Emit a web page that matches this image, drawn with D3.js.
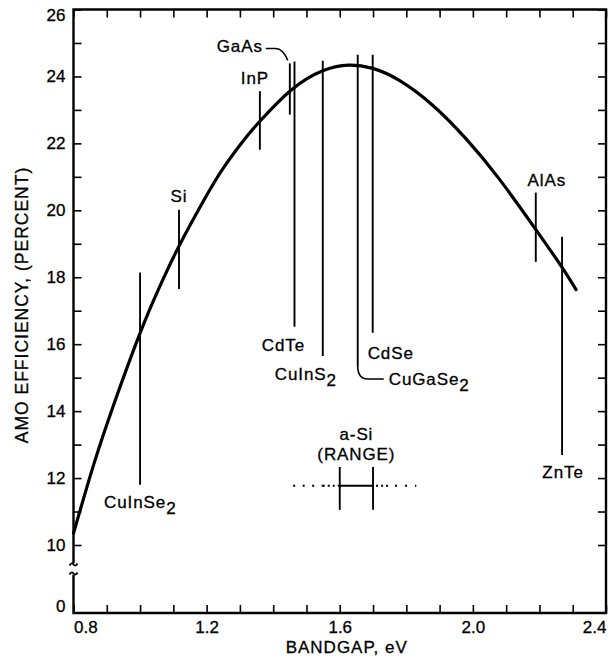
<!DOCTYPE html>
<html><head><meta charset="utf-8">
<script src="https://cdn.jsdelivr.net/npm/d3@7"></script>
<style>
html,body{margin:0;padding:0;background:#fff;}
svg{display:block;}
text{font-family:"Liberation Sans",Arial,Helvetica,sans-serif;fill:#000;}
</style>
</head><body>
<svg id="chart" width="616" height="669"></svg>
<script>
// ---- data ----
const bandgapEV     = [0.80, 0.859, 0.92, 1.00, 1.06, 1.118, 1.19, 1.25, 1.315, 1.36, 1.456, 1.551, 1.626, 1.699, 1.779, 1.879, 1.979, 2.079, 2.186, 2.265, 2.31];
const efficiencyPct = [10.35, 12.35, 14.17, 16.33, 17.74, 18.95, 20.27, 21.26, 22.14, 22.66, 23.61, 24.18, 24.34, 24.24, 23.88, 23.14, 22.14, 20.94, 19.47, 18.34, 17.63];

const materials      = ["CuInSe2", "Si", "InP", "GaAs", "CdTe", "CuInS2", "CuGaSe2", "CdSe", "AlAs", "ZnTe"];
const materialGapEV  = [1.00, 1.117, 1.36, 1.45, 1.464, 1.549, 1.654, 1.699, 2.189, 2.268];
const materialTop    = [18.14, 20.02, 23.56, 24.39, 24.45, 24.47, 24.65, 24.65, 20.53, 19.21];
const materialBottom = [11.80, 17.65, 21.81, 22.86, 16.52, 15.65, 15.35, 16.34, 18.46, 12.69];

const aSiRangeEV  = [1.6, 1.7];
const aSiDottedEV = [1.46, 1.83];
const aSiLevel    = 11.77;
const aSiBarPct   = [11.05, 12.33];

const xTickValues = [0.8,0.9,1.0,1.1,1.2,1.3,1.4,1.5,1.6,1.7,1.8,1.9,2.0,2.1,2.2,2.3,2.4];
const xTickLabels = ["0.8","1.2","1.6","2.0","2.4"];
const yTickValues = [10,11,12,13,14,15,16,17,18,19,20,21,22,23,24,25,26];
const yTickLabels = [0,10,12,14,16,18,20,22,24,26];

// ---- layout (not data) ----
const FONT = 17;
const labelLayout = {
  CuInSe2:{end:"bottom",dx:-36,dy:23,anchor:"start"},
  Si:     {end:"top",dx:0,dy:-8,anchor:"middle"},
  InP:    {end:"top",dx:-5,dy:-7,anchor:"middle"},
  GaAs:   {end:"top",dx:-27,dy:-11,anchor:"end"},
  CdTe:   {end:"bottom",dx:-11,dy:24,anchor:"middle"},
  CuInS2: {end:"bottom",dx:-48,dy:24,anchor:"start"},
  CuGaSe2:{end:"bottom",dx:31,dy:19,anchor:"start"},
  CdSe:   {end:"bottom",dx:-5,dy:26,anchor:"start"},
  AlAs:   {end:"top",dx:11,dy:-7,anchor:"middle"},
  ZnTe:   {end:"bottom",dx:1,dy:23,anchor:"middle"}
};

const svg = d3.select("#chart");
const x = d3.scaleLinear().domain([0.8, 2.4]).range([73.5, 606]);
const y = d3.scaleLinear().domain([0, 10, 26]).range([613, 545, 9.5]);

const x0 = x(0.8), x1 = x(2.4), yb = y(0), yt = y(26);

function styleAxis(g){
  g.select(".domain").remove();
  g.selectAll(".tick line").attr("stroke","#000").attr("stroke-width",1.6);
  g.selectAll(".tick text").attr("font-size",FONT).attr("fill","#000")
    .attr("font-family","'Liberation Sans',Arial,sans-serif").attr("stroke","#000").attr("stroke-width",0.3);
}

// left axis
const gl = svg.append("g").attr("transform",`translate(${x0},0)`)
  .call(d3.axisLeft(y).tickValues(yTickValues).tickSize(-8).tickPadding(8)
    .tickFormat(d => yTickLabels.includes(d) ? d : ""));
styleAxis(gl);
gl.selectAll(".tick text").filter(d => d === 26).attr("dy","0.62em");
gl.append("text").attr("x",-8).attr("y",yb-6).attr("dy","0.32em").attr("text-anchor","end")
  .attr("font-size",FONT).attr("stroke","#000").attr("stroke-width",0.3).text(yTickLabels[0]);

// right axis
const gr = svg.append("g").attr("transform",`translate(${x1},0)`)
  .call(d3.axisRight(y).tickValues(yTickValues).tickSize(-8).tickFormat(""));
styleAxis(gr);

// bottom axis
const gb = svg.append("g").attr("transform",`translate(0,${yb})`)
  .call(d3.axisBottom(x).tickValues(xTickValues).tickSize(-8).tickPadding(8)
    .tickFormat(d => { const s = d3.format(".1f")(d); return xTickLabels.includes(s) ? s : ""; }));
styleAxis(gb);
gb.selectAll(".tick text").filter(d => Math.abs(d-0.8)<1e-6).attr("text-anchor","start");
gb.selectAll(".tick text").filter(d => Math.abs(d-2.4)<1e-6).attr("text-anchor","end");

// top axis
const gt = svg.append("g").attr("transform",`translate(0,${yt})`)
  .call(d3.axisTop(x).tickValues(xTickValues).tickSize(-8).tickFormat(""));
styleAxis(gt);

// frame with broken left axis
svg.append("path")
  .attr("d",`M${x0},${yb} V576 M${x0},562 V${yt} H${x1} V${yb} H${x0}`)
  .attr("fill","none").attr("stroke","#000").attr("stroke-width",2.4).attr("stroke-linecap","square");
[564.5, 573.5].forEach(yy => {
  svg.append("path").attr("d",`M${x0-4},${yy+1} q2,-3.5 4,-1 t4,-1`)
    .attr("fill","none").attr("stroke","#000").attr("stroke-width",1.8);
});

// efficiency curve
const pts = bandgapEV.map((b,i) => [b, efficiencyPct[i]]);
svg.append("path").datum(pts)
  .attr("d", d3.line().x(d => x(d[0])).y(d => y(d[1])).curve(d3.curveNatural))
  .attr("fill","none").attr("stroke","#000").attr("stroke-width",3.2).attr("stroke-linecap","round");

// material bandgap markers
materials.forEach((m,i) => {
  const gx = x(materialGapEV[i]), ty = y(materialTop[i]), by = y(materialBottom[i]);
  svg.append("line").attr("x1",gx).attr("x2",gx).attr("y1",ty).attr("y2",by)
    .attr("stroke","#000").attr("stroke-width",1.9);
  const L = labelLayout[m];
  const ax = gx + L.dx, ay = (L.end === "top" ? ty : by) + L.dy;
  const t = svg.append("text").attr("x",ax).attr("y",ay).attr("text-anchor",L.anchor)
    .attr("font-size",FONT).attr("letter-spacing","0.9").attr("stroke","#000").attr("stroke-width",0.3);
  const mm = m.match(/^(.*?)(\d)$/);
  if (mm) {
    t.append("tspan").text(mm[1]);
    t.append("tspan").attr("dy",6).text(mm[2]);
  } else t.text(m);
  if (m === "GaAs") {
    svg.append("path").attr("d",`M${gx-24},${ty-15} H${gx-14} Q${gx-7},${ty-15} ${gx-2},${ty-3}`)
      .attr("fill","none").attr("stroke","#000").attr("stroke-width",1.5);
  }
  if (m === "CuGaSe2") {
    svg.append("path").attr("d",`M${gx},${by} Q${gx},${by+13} ${gx+10},${by+13} H${gx+26}`)
      .attr("fill","none").attr("stroke","#000").attr("stroke-width",1.6);
  }
});

// a-Si range
const ay = y(aSiLevel);
svg.append("line").attr("x1",x(aSiDottedEV[0])).attr("x2",x(aSiRangeEV[0])-14).attr("y1",ay).attr("y2",ay)
  .attr("stroke","#000").attr("stroke-width",2).attr("stroke-dasharray","2,7.5");
svg.append("line").attr("x1",x(aSiRangeEV[0])-17).attr("x2",x(aSiRangeEV[0])).attr("y1",ay).attr("y2",ay)
  .attr("stroke","#000").attr("stroke-width",2).attr("stroke-dasharray","2,3");
svg.append("line").attr("x1",x(aSiRangeEV[1])+3).attr("x2",x(aSiRangeEV[1])+17).attr("y1",ay).attr("y2",ay)
  .attr("stroke","#000").attr("stroke-width",2).attr("stroke-dasharray","2,3");
svg.append("line").attr("x1",x(aSiRangeEV[1])+22).attr("x2",x(aSiDottedEV[1])).attr("y1",ay).attr("y2",ay)
  .attr("stroke","#000").attr("stroke-width",2).attr("stroke-dasharray","2,8");
svg.append("line").attr("x1",x(aSiRangeEV[0])).attr("x2",x(aSiRangeEV[1])).attr("y1",ay).attr("y2",ay)
  .attr("stroke","#000").attr("stroke-width",2);
aSiRangeEV.forEach(v => {
  svg.append("line").attr("x1",x(v)).attr("x2",x(v)).attr("y1",y(aSiBarPct[1])).attr("y2",y(aSiBarPct[0]))
    .attr("stroke","#000").attr("stroke-width",1.9);
});
const acx = x((aSiRangeEV[0]+aSiRangeEV[1])/2);
svg.append("text").attr("x",acx).attr("y",y(aSiBarPct[1])-27).attr("text-anchor","middle")
  .attr("font-size",FONT).attr("letter-spacing","0.9").attr("stroke","#000").attr("stroke-width",0.3).text("a-Si");
svg.append("text").attr("x",acx).attr("y",y(aSiBarPct[1])-7).attr("text-anchor","middle")
  .attr("font-size",FONT).attr("letter-spacing","0.9").attr("stroke","#000").attr("stroke-width",0.3).text("(RANGE)");

// axis titles
svg.append("text").attr("x",(x0+x1)/2+7).attr("y",653).attr("text-anchor","middle")
  .attr("font-size",FONT).attr("letter-spacing","1").attr("stroke","#000").attr("stroke-width",0.3)
  .text("BANDGAP, eV");
svg.append("text").attr("transform","translate(28,305) rotate(-90)").attr("text-anchor","middle")
  .attr("font-size",17.5).attr("letter-spacing","1").attr("stroke","#000").attr("stroke-width",0.3)
  .text("AMO EFFICIENCY, (PERCENT)");
</script>
</body></html>
